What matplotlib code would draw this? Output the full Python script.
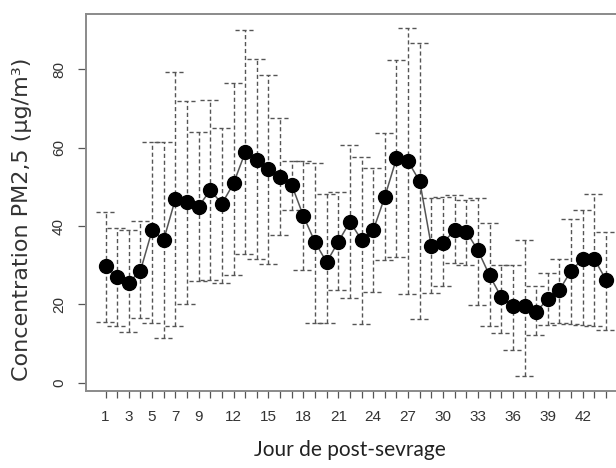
import matplotlib
matplotlib.use("Agg")
import matplotlib.pyplot as plt

# days after weaning and PM2.5 concentration (mean, upper and lower bound)
days = list(range(1, 45))
mean = [29.8, 27.0, 25.6, 28.6, 38.9, 36.5, 46.9, 46.1, 45.0, 49.2, 45.7,
        50.9, 58.8, 56.9, 54.5, 52.6, 50.5, 42.6, 35.9, 30.8, 36.0, 41.1,
        36.5, 38.9, 47.5, 57.3, 56.5, 51.4, 34.8, 35.8, 38.9, 38.6, 33.8,
        27.4, 21.9, 19.5, 19.6, 18.2, 21.3, 23.7, 28.6, 31.6, 31.6, 26.3]
upper = [43.7, 39.5, 39.0, 41.2, 61.4, 61.4, 79.3, 72.0, 64.0, 72.3, 65.0,
         76.4, 90.1, 82.6, 78.5, 67.5, 56.5, 56.5, 56.2, 48.3, 48.8, 60.7,
         57.7, 54.8, 63.7, 82.4, 90.5, 86.6, 47.1, 47.5, 48.0, 46.7, 47.1,
         40.7, 30.1, 30.1, 36.5, 24.7, 28.0, 31.6, 41.7, 44.0, 48.2, 38.6]
lower = [15.6, 14.5, 12.9, 16.5, 15.4, 11.4, 14.5, 20.2, 26.0, 26.3, 25.4,
         27.6, 33.0, 31.5, 30.3, 37.8, 44.0, 28.8, 15.2, 15.2, 23.7, 21.6,
         15.1, 23.3, 31.4, 32.2, 22.7, 16.3, 22.9, 24.6, 30.5, 30.1, 19.9,
         14.4, 12.7, 8.4, 1.8, 12.2, 14.8, 15.2, 15.0, 14.8, 14.4, 13.5]
labelled_days = [1, 3, 5, 7, 9, 12, 15, 18, 21, 24, 27, 30, 33, 36, 39, 42]
y_ticks = [0, 20, 40, 60, 80]

fig = plt.figure(figsize=(6.16, 4.68), dpi=100)
# axes runs a bit past the right edge of the picture, like the reference
ax = fig.add_axes([85.5 / 616, 1 - 390.7 / 468, (626 - 85.5) / 616, (390.7 - 14.5) / 468])

err_color = "#555555"
dash = (0, (3, 2))
half = 0.85
ax.vlines(days, lower, upper, colors=err_color, linestyles=dash, linewidth=1.0)
ax.hlines(upper, [d - half for d in days], [d + half for d in days],
          colors=err_color, linestyles=dash, linewidth=1.0)
ax.hlines(lower, [d - half for d in days], [d + half for d in days],
          colors=err_color, linestyles=dash, linewidth=1.0)

ax.plot(days, mean, color="#555555", linewidth=1.1, zorder=3)
ax.plot(days, mean, "o", color="black", markersize=10, zorder=4)

ax.set_xlim(-0.72, 45.72)
ax.set_ylim(-2, 94)

ax.set_xticks(days)
ax.set_xticklabels([str(d) if d in labelled_days else "" for d in days])
ax.set_yticks(y_ticks)
ax.set_yticklabels([str(v) for v in y_ticks], rotation=90, va="center")

for s in ax.spines.values():
    s.set_color("#8a8a8a")
    s.set_linewidth(1.4)

ax.tick_params(axis="x", length=5, width=0.9, color="#555555", pad=9,
               labelsize=11, labelcolor="#333333")
ax.tick_params(axis="y", length=6, width=0.9, color="#555555", pad=8,
               labelsize=11, labelcolor="#333333")
for lab in ax.get_xticklabels() + ax.get_yticklabels():
    lab.set_family("Liberation Sans")

fig.text(350 / 616, 1 - 450 / 468, "Jour de post-sevrage", ha="center",
         va="center", fontsize=15, family="Lato", color="#222222")
fig.text(22 / 616, 1 - 219 / 468, "Concentration PM2,5 (µg/m³)", ha="center",
         va="center", rotation=90, fontsize=16, family="DejaVu Sans",
         color="#333333")

plt.savefig("out.png", dpi=100)
